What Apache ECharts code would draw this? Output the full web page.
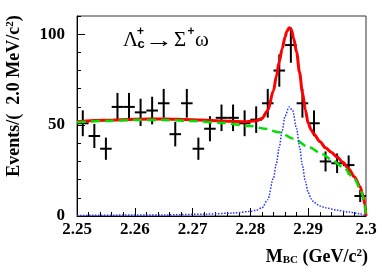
<!DOCTYPE html>
<html><head><meta charset="utf-8">
<script src="https://cdn.jsdelivr.net/npm/echarts@6/dist/echarts.min.js"></script>
<style>html,body{margin:0;padding:0;background:#fff}#c{width:382px;height:277px}</style>
</head><body><div id="c"></div>
<script>
// ---- data ----
const binCenters = [2.251,2.253,2.255,2.257,2.259,2.261,2.263,2.265,2.267,2.269,2.271,2.273,2.275,2.277,2.279,2.281,2.283,2.285,2.287,2.289,2.291,2.293,2.295,2.297,2.299];
const counts = [51,44,37,60,60,57,58,62,45,62,37,48,54,54,51,53,62,80,94,62,51,30,29,28,11];
const errors = [7.1,6.6,6.1,7.7,7.7,7.5,7.6,7.9,6.7,7.9,6.1,6.9,7.3,7.3,7.1,7.3,7.9,8.9,9.7,7.9,7.1,5.5,5.4,5.3,3.3];
const binHalfWidth = 0.001;

const totalX = [2.250,2.255,2.260,2.265,2.270,2.275,2.279,2.281,2.282,2.283,2.284,2.2845,2.285,2.2855,2.286,2.2863,2.2867,2.2871,2.2875,2.288,2.2885,2.289,2.2895,2.290,2.2905,2.291,2.292,2.293,2.294,2.295,2.296,2.297,2.298,2.299,2.2995,2.2998,2.300];
const totalY = [51.8,52.6,53.2,53.4,53.0,52.3,51.8,52.4,53.6,58,69,77,85,92,98.5,101.5,103.5,102.5,97.5,90,79,68,58.5,51,47.5,45,41,37.5,35,32.5,29.5,26,21.5,16,11,6.5,0];

const bkgX = [2.250,2.255,2.260,2.265,2.270,2.275,2.280,2.2825,2.285,2.2875,2.290,2.2925,2.294,2.296,2.298,2.299,2.2995,2.2998,2.300];
const bkgY = [51.5,52.3,52.8,52.8,52.2,51.2,49.5,48,46,42.5,38,34,31,27,20.5,15,10.5,6,0];

const sigX = [2.250,2.265,2.272,2.277,2.280,2.281,2.282,2.283,2.284,2.2845,2.285,2.2855,2.286,2.2867,2.2873,2.288,2.2885,2.289,2.2895,2.290,2.2905,2.291,2.292,2.293,2.295,2.297,2.299,2.300];
const sigY = [0.3,0.6,1.0,1.6,2.5,3.2,4.5,9,21,29,38,47,55,60,58,48,38,28,19,13,9.5,7.5,5.5,4.5,3.2,2.2,1.2,0];

const yMajorTicks = [0,50,100];
// ---------------------------------------

const zip = (a,b) => a.map((v,i)=>[v,b[i]]);
const serif = "'Liberation Serif','Times New Roman',serif";
const chart = echarts.init(document.getElementById('c'), null, {renderer:'canvas'});

const option = {
  animation:false,
  backgroundColor:'#fff',
  grid:{left:77, top:16, right:16, bottom:61, show:true, borderColor:'#333', borderWidth:1, backgroundColor:'transparent'},
  xAxis:[{
    type:'value', min:2.25, max:2.3, interval:0.01,
    axisLine:{show:true, lineStyle:{color:'#000', width:1}},
    axisTick:{show:true, inside:true, length:8, lineStyle:{color:'#000', width:1}},
    minorTick:{show:true, splitNumber:5, length:4, lineStyle:{color:'#000', width:1}},
    splitLine:{show:false},
    axisLabel:{fontFamily:serif, fontWeight:'bold', fontSize:17, color:'#000', margin:5,
      formatter:v=>String(Math.round(v*100)/100)}
  }],
  yAxis:[{
    type:'value', min:0, max:110, interval:10,
    axisLine:{show:true, lineStyle:{color:'#000', width:1}},
    axisTick:{show:true, inside:true, length:4, lineStyle:{color:'#000', width:1}},
    splitLine:{show:false},
    axisLabel:{fontFamily:serif, fontWeight:'bold', fontSize:17, color:'#000', margin:12,
      formatter:v=>(yMajorTicks.indexOf(Math.round(v))>=0 ? String(Math.round(v)) : '')}
  },{
    type:'value', min:0, max:110, position:'left',
    axisLine:{show:false},
    axisTick:{show:true, inside:true, length:8, customValues:yMajorTicks, lineStyle:{color:'#000', width:1}},
    axisLabel:{show:false},
    splitLine:{show:false}
  }],
  graphic:[
    {type:'text', x:14, y:96, rotation:Math.PI/2, style:{
      text:'{b|Events/(  2.0 MeV/c}{s|2}{b|)}', textAlign:'center', textVerticalAlign:'middle',
      rich:{b:{fontFamily:serif, fontWeight:'bold', fontSize:18, fill:'#000'}, s:{fontFamily:serif, fontWeight:'bold', fontSize:11, verticalAlign:'top', fill:'#000'}}
    }},
    {type:'text', x:368, y:257, style:{
      text:'{b|M}{u|BC}{b| (GeV/c}{s|2}{b|)}', textAlign:'right', textVerticalAlign:'middle',
      rich:{b:{fontFamily:serif, fontWeight:'bold', fontSize:18, fill:'#000'},
            u:{fontFamily:serif, fontWeight:'bold', fontSize:11, verticalAlign:'bottom', fill:'#000'},
            s:{fontFamily:serif, fontWeight:'bold', fontSize:11, verticalAlign:'top', fill:'#000'}}
    }},
    {type:'text', x:123, y:40, style:{text:'Λ', font:'21px '+serif, fill:'#000', textVerticalAlign:'middle'}},
    {type:'text', x:137, y:32, style:{text:'+', font:'bold 12px "Liberation Sans",sans-serif', fill:'#000', textVerticalAlign:'middle'}},
    {type:'text', x:137.5, y:44, style:{text:'c', font:'bold 13px "Liberation Sans",sans-serif', fill:'#000', textVerticalAlign:'middle'}},
    {type:'text', x:145, y:41, scaleX:1.35, style:{text:'→', font:'21px '+serif, fill:'#000', textVerticalAlign:'middle'}},
    {type:'text', x:174, y:40, style:{text:'Σ', font:'21px '+serif, fill:'#000', textVerticalAlign:'middle'}},
    {type:'text', x:187.5, y:32, style:{text:'+', font:'bold 12px "Liberation Sans",sans-serif', fill:'#000', textVerticalAlign:'middle'}},
    {type:'text', x:195, y:40, style:{text:'ω', font:'21px '+serif, fill:'#000', textVerticalAlign:'middle'}}
  ],
  series:[
    {
      type:'custom', z:1, data:binCenters.map((x,i)=>[x,counts[i],errors[i]]),
      renderItem:(params, api)=>{
        const x=api.value(0), y=api.value(1), e=api.value(2);
        const c=api.coord([x,y]);
        const t=api.coord([x,y+e]);
        const b=api.coord([x,Math.max(0,y-e)]);
        const l=api.coord([x-binHalfWidth,y]);
        const r=api.coord([x+binHalfWidth,y]);
        return {type:'group', children:[
          {type:'line', shape:{x1:c[0],y1:t[1],x2:c[0],y2:b[1]}, style:{stroke:'#000', lineWidth:2}},
          {type:'line', shape:{x1:l[0],y1:c[1],x2:r[0],y2:c[1]}, style:{stroke:'#000', lineWidth:2}}
        ]};
      }
    },
    {type:'line', z:2, data:zip(totalX,totalY), showSymbol:false, smooth:0.3, smoothMonotone:'x',
      lineStyle:{color:'#ff0000', width:3}},
    {type:'line', z:3, data:zip(bkgX,bkgY), showSymbol:false, smooth:0.3, smoothMonotone:'x',
      lineStyle:{color:'#00e000', width:2.5, type:[9,5]}},
    {type:'line', z:4, data:zip(sigX,sigY), showSymbol:false, smooth:0.3, smoothMonotone:'x',
      lineStyle:{color:'#2233ff', width:1.5, type:[1.5,1.5]}}
  ]
};
chart.setOption(option);
</script>
</body></html>
